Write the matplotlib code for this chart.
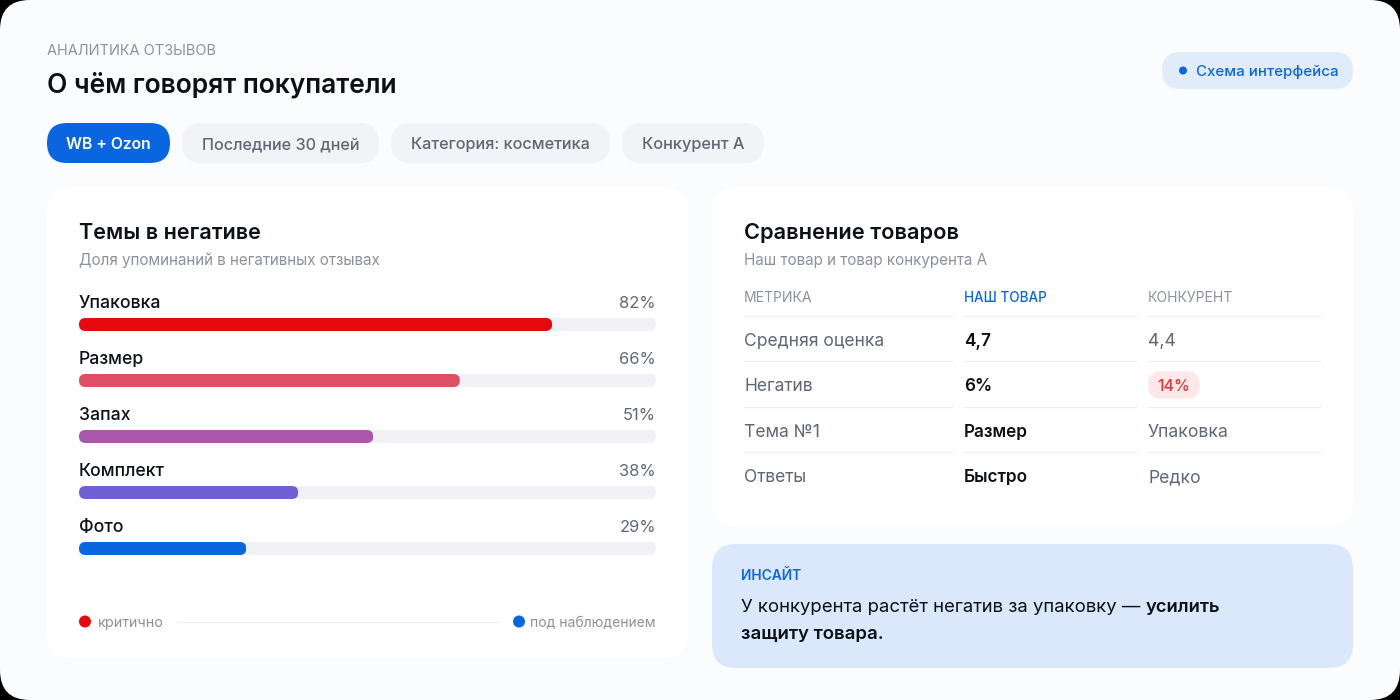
import matplotlib
matplotlib.use("Agg")
import matplotlib.pyplot as plt
from matplotlib.patches import FancyBboxPatch, Circle

plt.rcParams['font.family'] = ['Inter', 'Noto Sans', 'DejaVu Sans']

eyebrow = "АНАЛИТИКА ОТЗЫВОВ"
title = "О чём говорят покупатели"
badge = "Схема интерфейса"
chips = ["WB + Ozon", "Последние 30 дней", "Категория: косметика", "Конкурент А"]
left_title = "Темы в негативе"
left_sub = "Доля упоминаний в негативных отзывах"
themes = ["Упаковка", "Размер", "Запах", "Комплект", "Фото"]
shares = [82, 66, 51, 38, 29]
bar_colors = ["#E60A0F", "#DE4F66", "#AB56AD", "#6F60D6", "#0A66E0"]
legend_labels = ["критично", "под наблюдением"]
right_title = "Сравнение товаров"
right_sub = "Наш товар и товар конкурента А"
table_headers = ["МЕТРИКА", "НАШ ТОВАР", "КОНКУРЕНТ"]
metrics = ["Средняя оценка", "Негатив", "Тема №1", "Ответы"]
ours = ["4,7", "6%", "Размер", "Быстро"]
rival = ["4,4", "14%", "Упаковка", "Редко"]
insight_head = "ИНСАЙТ"
insight_l1a = "У конкурента растёт негатив за упаковку —"
insight_l1b = "усилить"
insight_l2 = "защиту товара."

W, H = 1400, 700
INK, GREY, MID, BLUE = "#0C1118", "#8B929E", "#5F6775", "#0A66E0"
LINE = "#EEF0F3"

fig = plt.figure(figsize=(14, 7), dpi=100, facecolor="#000000")
bg = fig.add_axes([0, 0, 1, 1], zorder=0)
bg.set_xlim(0, W); bg.set_ylim(H, 0); bg.axis("off")


def rbox(x0, y0, x1, y1, r, color, z=1, ax=bg, **kw):
    p = FancyBboxPatch((x0 + r, y0 + r), x1 - x0 - 2 * r, y1 - y0 - 2 * r,
                       boxstyle=f"round,pad={r},rounding_size={r}",
                       fc=color, ec="none", zorder=z, transform=bg.transData, **kw)
    if ax is not None:
        ax.add_patch(p)
    return p


def txt(x, y, s, size, color=INK, weight="normal", ha="left", z=5, ax=bg):
    # y is the visual centre of the capitals; Inter's cap height is about 0.727 em
    return ax.text(x, y + 0.36 * size, s, fontsize=size * 0.72, color=color,
                   fontweight=weight, ha=ha, va="baseline", zorder=z)


rbox(0, 0, W, H, 30, "#FAFCFE")
txt(47, 50, eyebrow, 14.5, GREY)
txt(47, 83, title, 26.4, INK, "semibold")
rbox(1162, 52, 1353, 89, 18.5, "#E1ECFB")
bg.add_patch(Circle((1183, 70.5), 4, fc=BLUE, ec="none", zorder=3))
txt(1196, 71, badge, 15, BLUE, "medium")

chip_x = [(47, 170), (182, 379), (391, 610), (622, 764)]
chip_sizes = [15.7, 16.2, 16.3, 16.4]
for i, (s, (a, b)) in enumerate(zip(chips, chip_x)):
    rbox(a, 123, b, 163, 20, BLUE if i == 0 else "#F1F3F6", 2)
    txt((a + b) / 2, 143.5, s, chip_sizes[i], "#FFFFFF" if i == 0 else MID,
        "semibold" if i == 0 else "medium", ha="center")

# Left card
rbox(47, 187, 688, 658, 24, "#FFFFFF")
txt(79, 231, left_title, 21.6, INK, "semibold")
txt(79, 260, left_sub, 15.2, GREY)

# Bars, on their own axes scaled 0..100 %
BX0, BX1, BY0, ROW, BH = 79, 656, 324.5, 56, 13
bar_ax = fig.add_axes([BX0 / W, 1 - (BY0 + 4.5 * ROW) / H, (BX1 - BX0) / W, 5 * ROW / H],
                      zorder=2)
bar_ax.set_xlim(0, 100); bar_ax.set_ylim(4.5, -0.5); bar_ax.axis("off")
height = BH / ROW
for i, (name, v, c) in enumerate(zip(themes, shares, bar_colors)):
    yc = BY0 + i * ROW
    track = bar_ax.barh(i, 100, height=height, color="#EFF1F5", zorder=1)[0]
    track.set_clip_path(rbox(BX0, yc - BH / 2, BX1, yc + BH / 2, BH / 2, "none", ax=None))
    bar = bar_ax.barh(i, v, height=height, color=c, zorder=2)[0]
    xe = BX0 + (BX1 - BX0) * v / 100
    bar.set_clip_path(rbox(BX0, yc - BH / 2, xe, yc + BH / 2, BH / 2, "none", ax=None))
    txt(BX0, yc - 22.5, name, 17.6, INK, "medium")
    txt(BX1, yc - 22.5, f"{v}%", 16.5, MID, ha="right")

bg.add_patch(Circle((85, 621.5), 6, fc="#E60A0F", ec="none", zorder=3))
txt(98, 622, legend_labels[0], 14.4, GREY)
bg.plot([178, 499], [621.5, 621.5], color=LINE, lw=1, zorder=3)
bg.add_patch(Circle((519, 621.5), 6, fc=BLUE, ec="none", zorder=3))
txt(656, 622, legend_labels[1], 13.9, GREY, ha="right")

# Right card
rbox(712, 187, 1353, 527, 24, "#FFFFFF")
txt(744, 231, right_title, 21.8, INK, "semibold")
txt(744, 260, right_sub, 15.2, GREY)
cols = [(744, 952), (964, 1136), (1148, 1320)]
txt(744, 297, table_headers[0], 14, GREY)
txt(964, 297, table_headers[1], 13.5, BLUE, "medium")
txt(1148, 297, table_headers[2], 14, GREY)
row_y = [339.5, 385, 430.5, 476]
for ly in [315.5, 361, 406.5, 452]:
    for a, b in cols:
        bg.plot([a, b], [ly, ly], color=LINE, lw=1, zorder=3)
for i, y in enumerate(row_y):
    txt(744, y, metrics[i], 17.5, MID)
    txt(964, y, ours[i], 17.2, INK, "semibold")
    if i == 1:
        rbox(1148, 371.5, 1200, 398.5, 13.5, "#FDE8E9", 3)
        txt(1174, y, rival[i], 16, "#E5343B", "medium", ha="center")
    else:
        txt(1148, y, rival[i], 17.6, MID)

# Insight
rbox(712, 544, 1353, 668, 24, "#DBE8FB")
txt(741, 575, insight_head, 13.8, BLUE, "semibold")
txt(741, 605, insight_l1a, 18.5, INK)
txt(1146, 605, insight_l1b, 18.4, INK, "semibold")
txt(741, 632, insight_l2, 18.6, INK, "semibold")

fig.savefig("out.png", dpi=100, facecolor=fig.get_facecolor())
